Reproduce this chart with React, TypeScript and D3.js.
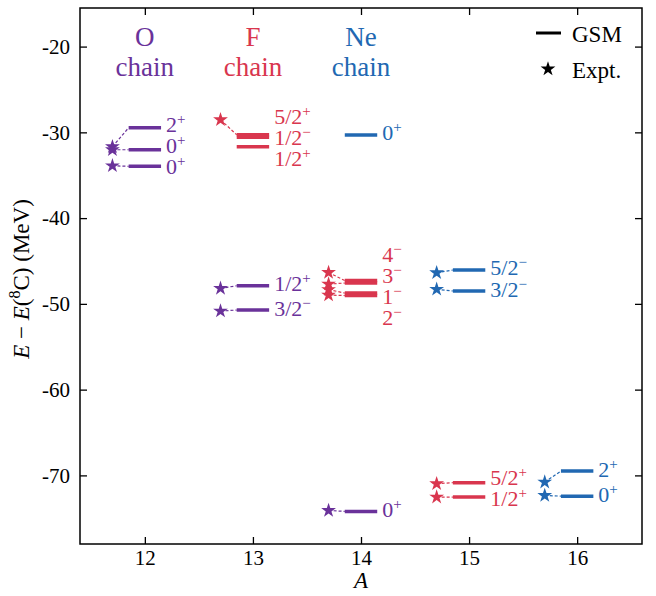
import { useEffect, useRef } from "react";
import * as d3 from "d3";

// Axis ticks
const MASS_TICKS = [12, 13, 14, 15, 16];
const ENERGY_TICKS = [-20, -30, -40, -50, -60, -70];

// Chains: name, colour, and the lightest A (header sits above it)
const CHAINS = ["O", "F", "Ne"];
const CHAIN_COLORS = ["#6a329a", "#d9364e", "#2168b2"];
const CHAIN_FIRST_A = [12, 13, 14];

// Levels per chain: spin, parity, GSM energy and experiment (MeV, rel. to 8C)
const O_LEVELS = [
  { A: 12, J: "2", P: "+", gsm: -29.46, expt: -31.68 },
  { A: 12, J: "0", P: "+", gsm: -32.03, expt: -32.03 },
  { A: 12, J: "0", P: "+", gsm: -33.96, expt: -33.9 },
  { A: 13, J: "1/2", P: "+", gsm: -47.89, expt: -48.19 },
  { A: 13, J: "3/2", P: "−", gsm: -50.72, expt: -50.84 },
  { A: 14, J: "0", P: "+", gsm: -74.2, expt: -74.09 },
];

const F_LEVELS = [
  { A: 13, J: "5/2", P: "+", gsm: -30.28, expt: -28.53 },
  { A: 13, J: "1/2", P: "−", gsm: -30.57, expt: null },
  { A: 13, J: "1/2", P: "+", gsm: -31.68, expt: null },
  { A: 14, J: "4", P: "−", gsm: -47.28, expt: -46.34 },
  { A: 14, J: "3", P: "−", gsm: -47.57, expt: -47.69 },
  { A: 14, J: "1", P: "−", gsm: -48.74, expt: -48.33 },
  { A: 14, J: "2", P: "−", gsm: -49.03, expt: -48.97 },
  { A: 15, J: "5/2", P: "+", gsm: -70.85, expt: -70.97 },
  { A: 15, J: "1/2", P: "+", gsm: -72.53, expt: -72.53 },
];

const NE_LEVELS = [
  { A: 14, J: "0", P: "+", gsm: -30.3, expt: null },
  { A: 15, J: "5/2", P: "−", gsm: -46.05, expt: -46.37 },
  { A: 15, J: "3/2", P: "−", gsm: -48.5, expt: -48.3 },
  { A: 16, J: "2", P: "+", gsm: -69.5, expt: -70.78 },
  { A: 16, J: "0", P: "+", gsm: -72.42, expt: -72.34 },
];

const W = 656;
const H = 596;
const FRAME = { left: 80, right: 642, top: 8, bottom: 544 };
const FONT = "'Liberation Serif', 'Times New Roman', serif";
const LABEL_GAP = 21;
const HALF_W = 0.15; // half width of a level bar, in A units
const STAR_DX = 0.3;

// push overlapping labels apart, keeping each cluster centred on its levels
function spreadLabels(ys: number[], gap: number) {
  let clusters = ys.map((v) => ({ vals: [v] }));
  const top = (c: { vals: number[] }) =>
    d3.mean(c.vals.map((v, k) => v - k * gap)) as number;
  let merged = true;
  while (merged) {
    merged = false;
    for (let i = 1; i < clusters.length; i++) {
      const a = clusters[i - 1];
      const b = clusters[i];
      if (top(a) + a.vals.length * gap > top(b)) {
        clusters.splice(i - 1, 2, { vals: [...a.vals, ...b.vals] });
        merged = true;
        break;
      }
    }
  }
  const out: number[] = [];
  clusters.forEach((c) => {
    const t = top(c);
    c.vals.forEach((_, k) => out.push(t + k * gap));
  });
  return out;
}

export default function App() {
  const svgRef = useRef<SVGSVGElement>(null);

  useEffect(() => {
    document.body.style.margin = "0";
    const svg = d3.select(svgRef.current);
    svg.selectAll("*").remove();

    const x = d3.scaleLinear().domain([11.4, 16.6]).range([FRAME.left, FRAME.right]);
    const y = d3.scaleLinear().domain([-78, -15.5]).range([FRAME.bottom, FRAME.top]);

    const star = d3.symbol(d3.symbolStar, 68);

    // ── axes: ticks inward on all four sides ──
    const styleAxis = (g: any) => {
      g.select(".domain").remove();
      g.selectAll(".tick line").attr("stroke", "#000").attr("stroke-width", 1.3);
      g.selectAll(".tick text").attr("fill", "#000").attr("font-size", 21).attr("font-family", FONT);
    };
    svg.append("g")
      .attr("transform", `translate(${FRAME.left},0)`)
      .call(d3.axisLeft(y).tickValues(ENERGY_TICKS).tickSize(-7).tickPadding(10).tickFormat((d) => `${d}`))
      .call(styleAxis);
    svg.append("g")
      .attr("transform", `translate(${FRAME.right},0)`)
      .call(d3.axisRight(y).tickValues(ENERGY_TICKS).tickSize(-7).tickFormat(() => ""))
      .call(styleAxis);
    svg.append("g")
      .attr("transform", `translate(0,${FRAME.bottom})`)
      .call(d3.axisBottom(x).tickValues(MASS_TICKS).tickSize(-7).tickPadding(6).tickFormat((d) => `${d}`))
      .call(styleAxis);
    svg.append("g")
      .attr("transform", `translate(0,${FRAME.top})`)
      .call(d3.axisTop(x).tickValues(MASS_TICKS).tickSize(-7).tickFormat(() => ""))
      .call(styleAxis);

    svg.append("rect")
      .attr("x", FRAME.left).attr("y", FRAME.top)
      .attr("width", FRAME.right - FRAME.left).attr("height", FRAME.bottom - FRAME.top)
      .attr("fill", "none").attr("stroke", "#000").attr("stroke-width", 1.5);

    // ── axis titles ──
    svg.append("text")
      .attr("x", (FRAME.left + FRAME.right) / 2).attr("y", 588)
      .attr("text-anchor", "middle").attr("font-family", FONT).attr("font-size", 23)
      .attr("font-style", "italic").text("A");

    const yl = svg.append("text")
      .attr("transform", `translate(29,${(FRAME.top + FRAME.bottom) / 2 + 3}) rotate(-90)`)
      .attr("text-anchor", "middle").attr("font-family", FONT).attr("font-size", 23);
    yl.append("tspan").attr("font-style", "italic").text("E");
    yl.append("tspan").text(" − ");
    yl.append("tspan").attr("font-style", "italic").text("E");
    yl.append("tspan").text("(");
    yl.append("tspan").attr("font-size", 16).attr("dy", -9).text("8");
    yl.append("tspan").attr("dy", 9).text("C) (MeV)");

    // ── levels ──
    const chainLevels = [O_LEVELS, F_LEVELS, NE_LEVELS];
    chainLevels.forEach((levels, ci) => {
      const color = CHAIN_COLORS[ci];
      const g = svg.append("g");

      // chain header
      g.append("text")
        .attr("x", x(CHAIN_FIRST_A[ci])).attr("y", 46)
        .attr("text-anchor", "middle").attr("font-family", FONT).attr("font-size", 27)
        .attr("fill", color).text(CHAINS[ci]);
      g.append("text")
        .attr("x", x(CHAIN_FIRST_A[ci])).attr("y", 76)
        .attr("text-anchor", "middle").attr("font-family", FONT).attr("font-size", 27)
        .attr("fill", color).text("chain");

      const groups = d3.group(levels, (d) => d.A);
      groups.forEach((lv, A) => {
        const x0 = x(A - HALF_W);
        const x1 = x(A + HALF_W);
        const xs = x(A - STAR_DX);

        lv.forEach((d) => {
          if (d.expt !== null) {
            g.append("line")
              .attr("x1", xs).attr("y1", y(d.expt))
              .attr("x2", x0).attr("y2", y(d.gsm))
              .attr("stroke", color).attr("stroke-width", 1.2)
              .attr("stroke-dasharray", "3,2");
          }
          g.append("line")
            .attr("x1", x0).attr("x2", x1)
            .attr("y1", y(d.gsm)).attr("y2", y(d.gsm))
            .attr("stroke", color).attr("stroke-width", 3.5);
        });
        lv.forEach((d) => {
          if (d.expt !== null) {
            g.append("path")
              .attr("d", star())
              .attr("transform", `translate(${xs},${y(d.expt)})`)
              .attr("fill", color);
          }
        });

        const sorted = lv.slice().sort((a, b) => b.gsm - a.gsm);
        const ly = spreadLabels(sorted.map((d) => y(d.gsm)), LABEL_GAP);
        sorted.forEach((d, i) => {
          const t = g.append("text")
            .attr("x", x1 + 5).attr("y", ly[i] - 2 + 7.5)
            .attr("font-family", FONT).attr("font-size", 22).attr("fill", color);
          t.append("tspan").text(d.J);
          t.append("tspan").attr("font-size", 15).attr("dy", -8).text(d.P);
        });
      });
    });

    // ── legend ──
    const lg = svg.append("g");
    lg.append("line")
      .attr("x1", 536).attr("x2", 561).attr("y1", 33).attr("y2", 33)
      .attr("stroke", "#000").attr("stroke-width", 3);
    lg.append("text")
      .attr("x", 572).attr("y", 42)
      .attr("font-family", FONT).attr("font-size", 23).text("GSM");
    lg.append("path")
      .attr("d", star())
      .attr("transform", "translate(548,69)")
      .attr("fill", "#000");
    lg.append("text")
      .attr("x", 572).attr("y", 78)
      .attr("font-family", FONT).attr("font-size", 23).text("Expt.");
  }, []);

  return <svg ref={svgRef} width={W} height={H} style={{ display: "block", background: "#fff" }} />;
}
